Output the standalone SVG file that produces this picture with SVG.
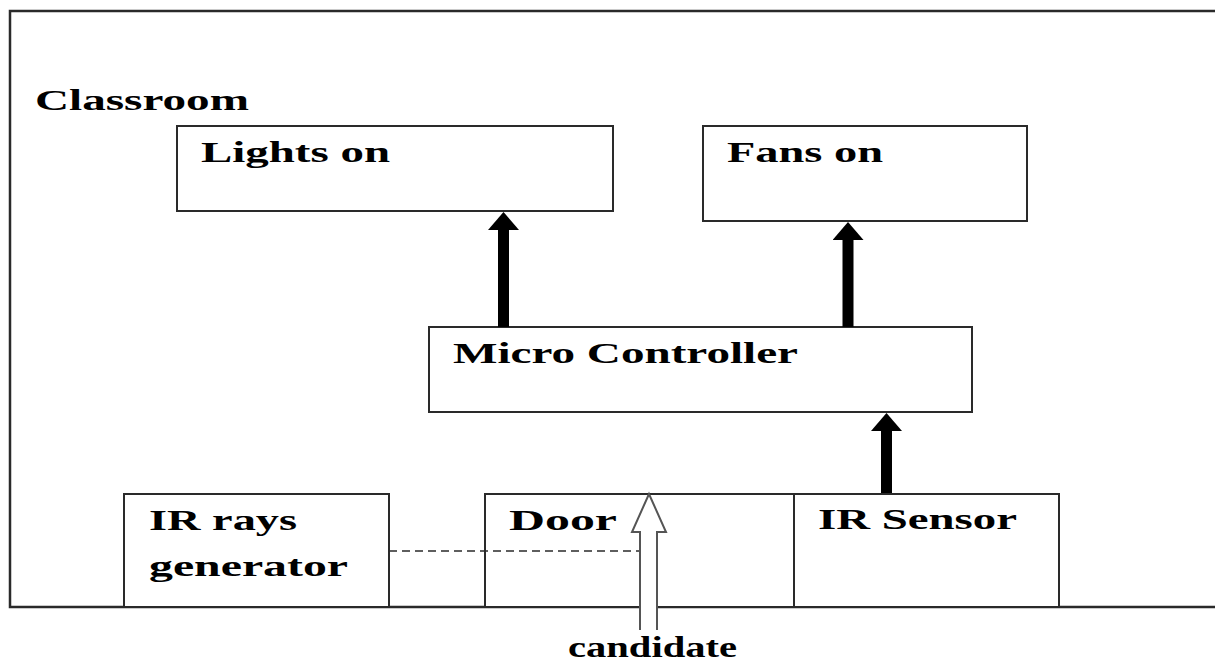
<svg xmlns="http://www.w3.org/2000/svg" width="1215" height="664" viewBox="0 0 1215 664">
<defs>
<style>
.box{fill:#fff;stroke:#2a2a2a;stroke-width:2}
.lbl{font-family:"Liberation Serif","Times New Roman",serif;font-weight:bold;font-size:29px;fill:#000}
.thick{stroke:#000;stroke-width:11;fill:none}
</style>
<marker id="head" viewBox="0 0 18 31" refX="0" refY="15.5" markerWidth="18" markerHeight="31" markerUnits="userSpaceOnUse" orient="auto">
<path d="M0,0 L18,15.5 L0,31 Z" fill="#000"/>
</marker>
</defs>
<rect width="1215" height="664" fill="#fff"/>
<g id="classroom">
<path d="M1215,11 H10 V607 H1215" fill="none" stroke="#2a2a2a" stroke-width="2.5"/>
<text class="lbl" x="35" y="110" textLength="214" lengthAdjust="spacingAndGlyphs">Classroom</text>
</g>
<g id="lights">
<rect class="box" x="177" y="126" width="436" height="85"/>
<text class="lbl" x="201" y="162" textLength="189" lengthAdjust="spacingAndGlyphs">Lights on</text>
</g>
<g id="fans">
<rect class="box" x="703" y="126" width="324" height="95"/>
<text class="lbl" x="727" y="162" textLength="156" lengthAdjust="spacingAndGlyphs">Fans on</text>
</g>
<g id="micro">
<rect class="box" x="429" y="327" width="543" height="85"/>
<text class="lbl" x="453" y="363" textLength="345" lengthAdjust="spacingAndGlyphs">Micro Controller</text>
</g>
<g id="irgen">
<rect class="box" x="124" y="494" width="265" height="113"/>
<text class="lbl" x="149" y="530" textLength="148" lengthAdjust="spacingAndGlyphs">IR rays</text>
<text class="lbl" x="149" y="576" textLength="199" lengthAdjust="spacingAndGlyphs">generator</text>
</g>
<g id="door">
<rect class="box" x="485" y="494" width="309" height="113"/>
<text class="lbl" x="509" y="530" textLength="108" lengthAdjust="spacingAndGlyphs">Door</text>
</g>
<g id="irsensor">
<rect class="box" x="794" y="494" width="265" height="113"/>
<text class="lbl" x="818" y="529" textLength="199" lengthAdjust="spacingAndGlyphs">IR Sensor</text>
</g>
<g id="connectors">
<line class="thick" x1="503.5" y1="327" x2="503.5" y2="230" marker-end="url(#head)"/>
<line class="thick" x1="848" y1="327" x2="848" y2="240" marker-end="url(#head)"/>
<line class="thick" x1="886.5" y1="493" x2="886.5" y2="431" marker-end="url(#head)"/>
<line x1="389" y1="551" x2="662" y2="551" stroke="#2a2a2a" stroke-width="1.5" stroke-dasharray="8 5"/>
<path d="M640,630 V532 H632 L649,494 L666,532 H657 V630" fill="#fff" stroke="#555" stroke-width="2"/>
</g>
<g id="candidate">
<text class="lbl" x="568" y="657" font-size="28" textLength="169" lengthAdjust="spacingAndGlyphs">candidate</text>
</g>
</svg>
